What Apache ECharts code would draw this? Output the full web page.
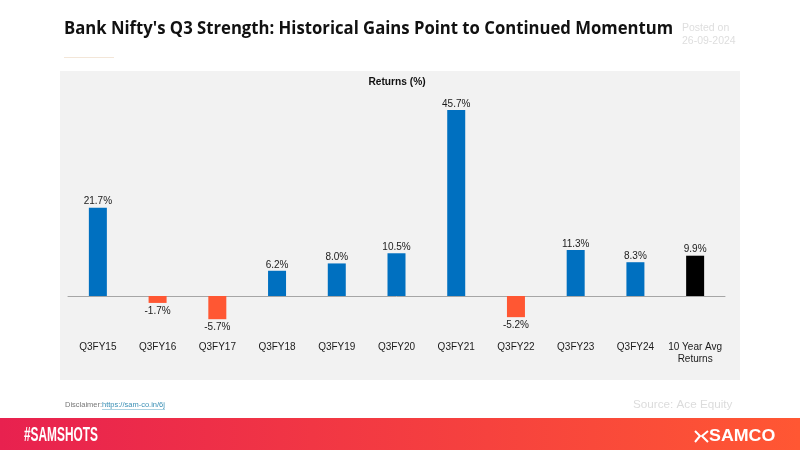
<!DOCTYPE html>
<html>
<head>
<meta charset="utf-8">
<style>html,body{margin:0;padding:0;background:#fff}#main{width:800px;height:450px}</style>
<script src="https://cdn.jsdelivr.net/npm/echarts@6/dist/echarts.min.js"></script>
</head>
<body>
<div id="main"></div>
<script>
var categories = ['Q3FY15','Q3FY16','Q3FY17','Q3FY18','Q3FY19','Q3FY20','Q3FY21','Q3FY22','Q3FY23','Q3FY24','10 Year Avg\nReturns'];
var returns = [21.7,-1.7,-5.7,6.2,8.0,10.5,45.7,-5.2,11.3,8.3,9.9];
var barColors = ['#0070c0','#ff5733','#ff5733','#0070c0','#0070c0','#0070c0','#0070c0','#ff5733','#0070c0','#0070c0','#000000'];

var chart = echarts.init(document.getElementById('main'));
var sans = '"Liberation Sans", Arial, sans-serif';

chart.setOption({
    animation: false,
    backgroundColor: '#ffffff',
    grid: {left: 68, right: 75, top: 92.5, bottom: 113.3},
    xAxis: [{
        type: 'category',
        data: categories,
        position: 'bottom',
        axisLine: {show: false, onZero: false},
        axisTick: {show: false},
        axisLabel: {color: '#1a1a1a', fontFamily: sans, fontSize: 10, margin: 5, interval: 0, lineHeight: 12}
    }, {
        type: 'category',
        data: categories,
        position: 'bottom',
        axisLine: {show: true, onZero: true, lineStyle: {color: '#a6a6a6', width: 1}},
        axisTick: {show: false},
        axisLabel: {show: false}
    }],
    yAxis: {type: 'value', min: -10, max: 50, show: false, splitLine: {show: false}},
    series: [{
        type: 'bar',
        barWidth: 18,
        data: returns.map(function (v, i) {
            return {
                value: v,
                itemStyle: {color: barColors[i]},
                label: {distance: v < 0 ? 3 : 1}
            };
        }),
        label: {
            show: true,
            position: 'outside',
            color: '#1a1a1a',
            fontFamily: sans,
            fontSize: 10,
            formatter: function (p) { return p.value.toFixed(1) + '%'; }
        }
    }],
    graphic: [
        // panel behind the plot
        {type: 'rect', z: -1, silent: true, shape: {x: 60, y: 71, width: 680, height: 309}, style: {fill: '#f2f2f2'}},
        {type: 'text', x: 64, y: 29, scaleX: 0.927, style: {text: "Bank Nifty's Q3 Strength: Historical Gains Point to Continued Momentum", fill: '#111', font: 'bold 18px "Open Sans", sans-serif', textVerticalAlign: 'middle'}},
        {type: 'rect', shape: {x: 64, y: 57, width: 50, height: 1}, style: {fill: '#f3e6d8'}},
        {type: 'text', x: 682, y: 28, style: {text: 'Posted on', fill: '#dedede', font: '10.5px ' + sans, textVerticalAlign: 'middle'}},
        {type: 'text', x: 682, y: 41, style: {text: '26-09-2024', fill: '#dedede', font: '10.5px ' + sans, textVerticalAlign: 'middle'}},
        {type: 'text', x: 397, y: 82, style: {text: 'Returns (%)', fill: '#111', font: 'bold 10.2px ' + sans, textAlign: 'center', textVerticalAlign: 'middle'}},
        {type: 'text', x: 65, y: 405, style: {text: 'Disclaimer:', fill: '#777', font: '7.5px ' + sans, textVerticalAlign: 'middle'}},
        {type: 'text', x: 102, y: 405, style: {text: 'https://sam-co.in/6j', fill: '#3a8fb5', font: '7.5px ' + sans, textVerticalAlign: 'middle'}},
        {type: 'rect', shape: {x: 102, y: 409, width: 63, height: 0.7}, style: {fill: '#8fc3d8'}},
        {type: 'text', x: 633, y: 405, style: {text: 'Source: Ace Equity', fill: '#dcdcdc', font: '11.7px ' + sans, textVerticalAlign: 'middle'}},
        // footer band
        {type: 'rect', shape: {x: 0, y: 418, width: 800, height: 32}, style: {
            fill: new echarts.graphic.LinearGradient(0, 0, 1, 0, [{offset: 0, color: '#e8214f'}, {offset: 1, color: '#ff5733'}])
        }},
        {type: 'text', x: 24, y: 435, scaleX: 0.565, style: {text: '#SAMSHOTS', fill: '#fff', font: 'bold 21px ' + sans, textVerticalAlign: 'middle'}},
        {type: 'text', x: 709, y: 436, scaleX: 1.08, style: {text: 'SAMCO', fill: '#fff', font: 'bold 16.5px ' + sans, textVerticalAlign: 'middle'}},
        {type: 'polyline', shape: {points: [[695, 431], [700, 436], [695, 442]]}, style: {stroke: '#fff', lineWidth: 2, fill: null}},
        {type: 'polyline', shape: {points: [[708, 431], [702, 436], [708, 442]]}, style: {stroke: '#fff', lineWidth: 2, fill: null}}
    ]
});
</script>
</body>
</html>
